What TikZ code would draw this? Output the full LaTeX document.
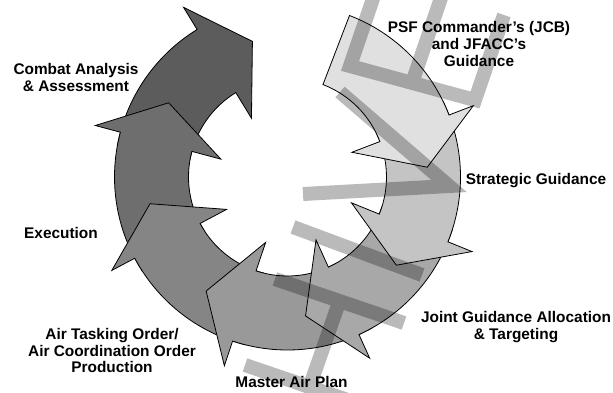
\documentclass[tikz,border=0pt]{standalone}
\usepackage{fontspec}
\setmainfont{Liberation Sans}
\newcommand\cycarrow[3]{% #1 head angle, #2 tail angle, #3 fill
  \filldraw[arr, fill=#3] ({#2}:173) arc[start angle={#2}, end angle={#1}, radius=173]
    -- ({#1}:199) -- ({#1-17}:140.1) -- ({#1}:69) -- ({#1}:99)
    arc[start angle={#1}, end angle={#2}, radius=99] -- cycle;}
\begin{document}
\begin{tikzpicture}[x=1pt,y=-1pt,
  arr/.style={draw=black, line width=0.8pt, line join=miter},
  lbl/.style={font=\fontsize{15.4}{16.8}\selectfont\bfseries, inner sep=0pt, align=center},
  wm/.style={draw=black, draw opacity=0.27, line width=14pt, line join=miter, line cap=butt}]
\useasboundingbox (0,0) rectangle (613,392);
\fill[white] (0,0) rectangle (613,392);
\begin{scope}
\clip (0,0) rectangle (613,392);
% cycle of arrows
\begin{scope}[shift={(287.5,177)}, yscale=-1]
  \cycarrow{121.5}{169.5}{black!64}
  \cycarrow{165}{213}{black!57}
  \cycarrow{208}{256}{black!48}
  \cycarrow{251.5}{299.5}{black!40}
  \cycarrow{294.4}{342.4}{black!34}
  \cycarrow{338}{386}{black!23}
  \cycarrow{21}{69}{black!12}
\end{scope}
% watermark
\draw[wm] (379,-19) -- (350,66) -- (475,100) -- (504,15)
          (412,83) -- (441,-2)
          (340,92) -- (449,186) -- (303,194)
          (293,227) -- (422,275)
          (275,279) -- (404,323)
          (245,365) -- (374,409)
          (339.5,301) -- (309.5,387);
\end{scope}
% labels
\node[lbl, anchor=north] (caa) at (76,63.5) {Combat Analysis\\\& Assessment};
\node[lbl, anchor=north] (psf) at (479,21.5) {PSF Commander’s (JCB)\\and JFACC’s\\Guidance};
\node[lbl, anchor=base] (sg) at (536,184.3) {Strategic Guidance};
\node[lbl, anchor=base] (exe) at (61,238.3) {Execution};
\node[lbl, anchor=north] (ato) at (112,328) {Air Tasking Order/\\Air Coordination Order\\Production};
\node[lbl, anchor=base] (map) at (291.5,387.3) {Master Air Plan};
\node[lbl, anchor=north] (jgat) at (516,311.5) {Joint Guidance Allocation\\\& Targeting};
\end{tikzpicture}
\end{document}
